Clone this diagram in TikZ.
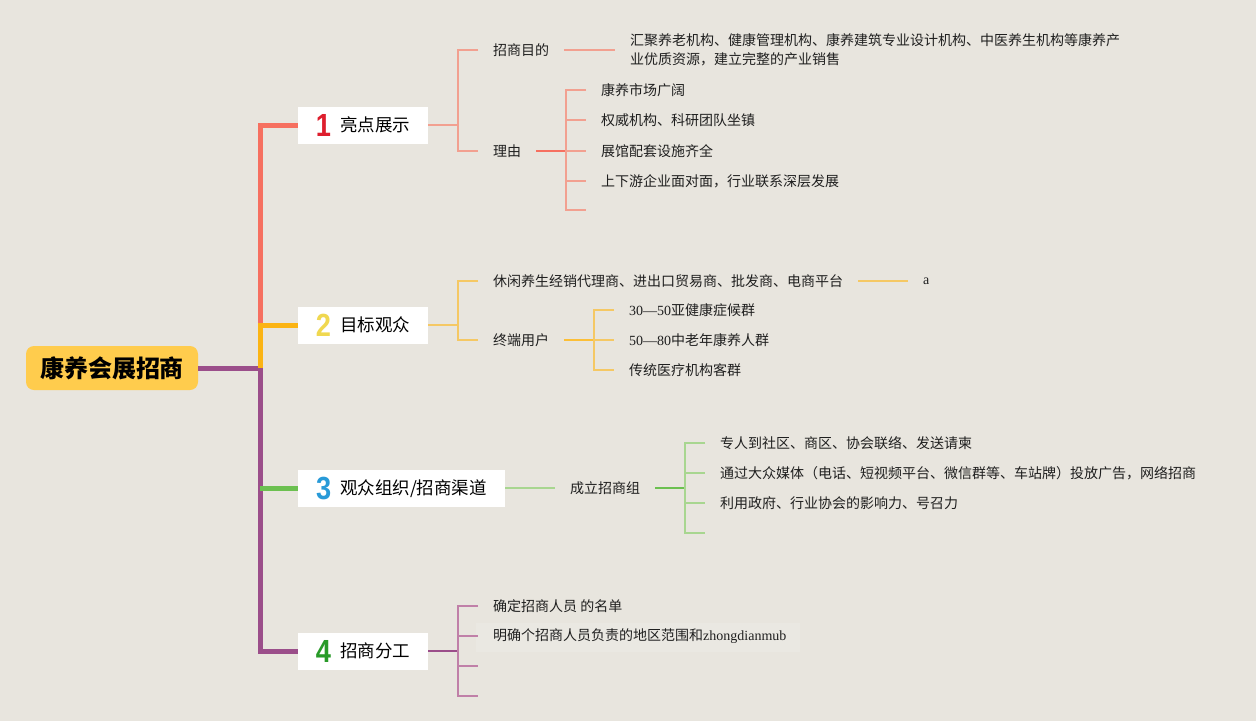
\documentclass[tikz,border=0pt]{standalone}
\usepackage{fontspec}
\usepackage{graphicx}
\setmainfont{Liberation Serif}
\newfontfamily\cjk{Noto Sans CJK SC}
\newfontfamily\numfont{Liberation Sans}

% colours of the branches
\definecolor{bgcol}{RGB}{232,229,222}
\definecolor{rootcol}{RGB}{255,204,77}
\definecolor{redtrunk}{RGB}{246,112,96}
\definecolor{orgtrunk}{RGB}{251,180,20}
\definecolor{grntrunk}{RGB}{108,192,80}
\definecolor{purtrunk}{RGB}{155,78,138}
\definecolor{redthin}{RGB}{242,160,144}
\definecolor{orgthin}{RGB}{245,200,100}
\definecolor{grnthin}{RGB}{168,214,144}
\definecolor{purthin}{RGB}{192,128,168}
\definecolor{numred}{RGB}{222,30,45}
\definecolor{numyel}{RGB}{240,216,80}
\definecolor{numblu}{RGB}{40,154,216}
\definecolor{numgrn}{RGB}{40,154,40}

% numero grande davanti al titolo
\newcommand{\tnum}[2]{\raisebox{-5pt}{\scalebox{0.85}[1]{\color{#1}\numfont\bfseries\fontsize{32}{32}\selectfont #2}}\hspace{9pt}}

\begin{document}
\begin{tikzpicture}[x=1pt, y=-1pt, line join=miter,
    trunk/.style={line width=5pt},
    thin/.style={line width=1.2pt},
    topic/.style={fill=white, minimum width=130pt, minimum height=37pt, inner sep=0pt,
        font={\cjk\fontsize{17.5}{20}\selectfont}},
    leaf/.style={anchor=west, inner xsep=15pt, inner ysep=2pt, text=black!88,
        font={\cjk\fontsize{14}{19}\selectfont}, align=left}]
    % Sfondo e bordo
    \fill[bgcol] (0,0) rectangle (1256,721);
    \useasboundingbox (0,0) rectangle (1256,721);

    % Nodo centrale e argomenti principali
    \node[fill=rootcol, rounded corners=8pt, minimum width=172pt, minimum height=44pt,
        font={\cjk\bfseries\fontsize{24}{26}\selectfont}] (root) at (112,368) {康养会展招商};
    \node[topic] (t1) at (363,125) {\tnum{numred}{1}亮点展示};
    \node[topic] (t2) at (363,325) {\tnum{numyel}{2}目标观众};
    \node[topic, minimum width=207pt] (t3) at (401.5,488) {\tnum{numblu}{3}观众组织/招商渠道};
    \node[topic] (t4) at (363,651) {\tnum{numgrn}{4}招商分工};
    \coordinate (hub) at (260,368);

    % Tronco colorato
    \draw[trunk, purtrunk] (root.east) -- (hub) |- (t4.west);
    \draw[trunk, redtrunk] (t1.west) -| (hub |- t2.west);
    \draw[trunk, orgtrunk] (t2.west) -| (hub);
    \draw[trunk, grntrunk] (t3.west) -- (hub |- t3.west);

    % 1. Ramo "亮点展示"
    \node[leaf] (a1) at (478,50) {招商目的};
    \node[leaf] (a2) at (478,151) {理由};
    \node[leaf, anchor=north west] (a11) at (615,31) {汇聚养老机构、健康管理机构、康养建筑专业设计机构、中医养生机构等康养产\\业优质资源，建立完整的产业销售};
    \node[leaf] (a21) at (586,90) {康养市场广阔};
    \node[leaf] (a22) at (586,120) {权威机构、科研团队坐镇};
    \node[leaf] (a23) at (586,151) {展馆配套设施齐全};
    \node[leaf] (a24) at (586,181) {上下游企业面对面，行业联系深层发展};
    \coordinate (a25) at (586,210);
    \coordinate (bus1) at (458,125);
    \coordinate (bus12) at (566,151);
    \draw[thin, redthin] (t1.east) -- (bus1);
    \draw[thin, redthin] (a1.west) -| (bus1) |- (a2.west);
    \draw[thin, redthin] (a1.east) -- (a1.east -| a11.west);
    \draw[thin, redtrunk] (a2.east) -- (bus12);
    \draw[thin, redthin] (a21.west) -| (bus12) |- (a25);
    \foreach \k in {a22,a23,a24}
        \draw[thin, redthin] (bus12 |- \k.west) -- (\k.west);

    % 2. Ramo "目标观众"
    \node[leaf] (b1) at (478,281) {休闲养生经销代理商、进出口贸易商、批发商、电商平台};
    \node[leaf, font={\rmfamily\fontsize{14}{19}\selectfont}] (b11) at (908,281) {a};
    \node[leaf] (b2) at (478,340) {终端用户};
    \node[leaf] (b21) at (614,310) {{\rmfamily 30—50}亚健康症候群};
    \node[leaf] (b22) at (614,340) {{\rmfamily 50—80}中老年康养人群};
    \node[leaf] (b23) at (614,370) {传统医疗机构客群};
    \coordinate (bus2) at (458,325);
    \coordinate (bus22) at (594,340);
    \draw[thin, orgthin] (t2.east) -- (bus2);
    \draw[thin, orgthin] (b1.west) -| (bus2) |- (b2.west);
    \draw[thin, orgthin] (b1.east) -- (b11.west);
    \draw[thin, orgtrunk!85] (b2.east) -- (bus22);
    \draw[thin, orgthin] (b21.west) -| (bus22) |- (b23.west);
    \draw[thin, orgthin] (bus22) -- (b22.west);

    % 3. Ramo "观众组织/招商渠道"
    \node[leaf] (c1) at (555,488) {成立招商组};
    \node[leaf] (c11) at (705,443) {专人到社区、商区、协会联络、发送请柬};
    \node[leaf] (c12) at (705,473) {通过大众媒体（电话、短视频平台、微信群等、车站牌）投放广告，网络招商};
    \node[leaf] (c13) at (705,503) {利用政府、行业协会的影响力、号召力};
    \coordinate (c14) at (705,533);
    \coordinate (bus3) at (685,488);
    \draw[thin, grnthin] (t3.east) -- (c1.west);
    \draw[thin, grntrunk] (c1.east) -- (bus3);
    \draw[thin, grnthin] (c11.west) -| (bus3) |- (c14);
    \foreach \k in {c12,c13}
        \draw[thin, grnthin] (bus3 |- \k.west) -- (\k.west);

    % 4. Ramo "招商分工"
    \fill[white, opacity=0.12] (476,623) rectangle (800,652);
    \node[leaf] (d1) at (478,606) {确定招商人员 的名单};
    \node[leaf] (d2) at (478,636) {明确个招商人员负责的地区范围和{\rmfamily zhongdianmub}};
    \coordinate (d3) at (478,666);
    \coordinate (d4) at (478,696);
    \coordinate (bus4) at (458,651);
    \draw[thin, purtrunk] (t4.east) -- (bus4);
    \draw[thin, purthin] (d1.west) -| (bus4) |- (d4);
    \foreach \k in {d2,d3}
        \draw[thin, purthin] (bus4 |- \k) -- (\k);
\end{tikzpicture}
\end{document}
